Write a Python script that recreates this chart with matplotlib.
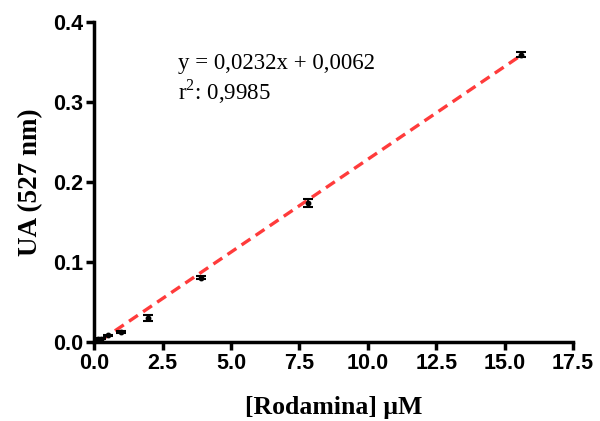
import numpy as np
import matplotlib.pyplot as plt

plt.rcParams['mathtext.fontset'] = 'custom'
plt.rcParams['mathtext.rm'] = 'Liberation Serif'

# dados
conc = [0.122, 0.244, 0.488, 0.976, 1.95, 3.9, 7.8, 15.6]
ua = [0.003, 0.004, 0.008, 0.012, 0.030, 0.080, 0.174, 0.359]
erro = [0.001, 0.001, 0.001, 0.001, 0.004, 0.002, 0.005, 0.003]
slope = 0.0232
intercept = -0.0038

fig, ax = plt.subplots(figsize=(6, 4.21), dpi=100)
fig.subplots_adjust(left=0.157, right=0.955, bottom=0.188, top=0.948)

xfit = np.array([0.244, 15.6])
ax.plot(xfit, slope * xfit + intercept, '--', color='#ff3b3b', lw=2.4, dashes=(3.2, 1.9), zorder=2)
ax.errorbar(conc, ua, yerr=erro, fmt='o', color='black', ms=3.2, capsize=3.5,
            elinewidth=1.3, capthick=1.5, zorder=3)

ax.set_xlim(0, 17.5)
ax.set_ylim(0, 0.4)
ax.set_xticks(np.arange(0, 17.6, 2.5))
ax.set_yticks([0.0, 0.1, 0.2, 0.3, 0.4])
ax.xaxis.set_major_formatter(plt.FormatStrFormatter('%.1f'))
ax.yaxis.set_major_formatter(plt.FormatStrFormatter('%.1f'))

for s in ['top', 'right']:
    ax.spines[s].set_visible(False)
for s in ['left', 'bottom']:
    ax.spines[s].set_linewidth(2.5)
ax.tick_params(width=2.5, length=6, labelsize=15.5, pad=2)
for lab in ax.get_xticklabels() + ax.get_yticklabels():
    lab.set_family('Liberation Sans')
    lab.set_fontweight('bold')

ax.set_xlabel('[Rodamina] μM', fontsize=18.5, fontweight='bold', family='Liberation Serif', labelpad=16)
ax.set_ylabel('UA (527 nm)', fontsize=19.5, fontweight='bold', family='Liberation Serif', labelpad=7)

ax.text(3.07, 0.3415, 'y = 0,0232x + 0,0062', fontsize=16.5,
        family='Liberation Serif', va='baseline')
ax.text(3.07, 0.3025, r'r$^{\mathrm{2}}$: 0,9985', fontsize=16.5,
        family='Liberation Serif', va='baseline')

plt.savefig('out.png', dpi=100)
